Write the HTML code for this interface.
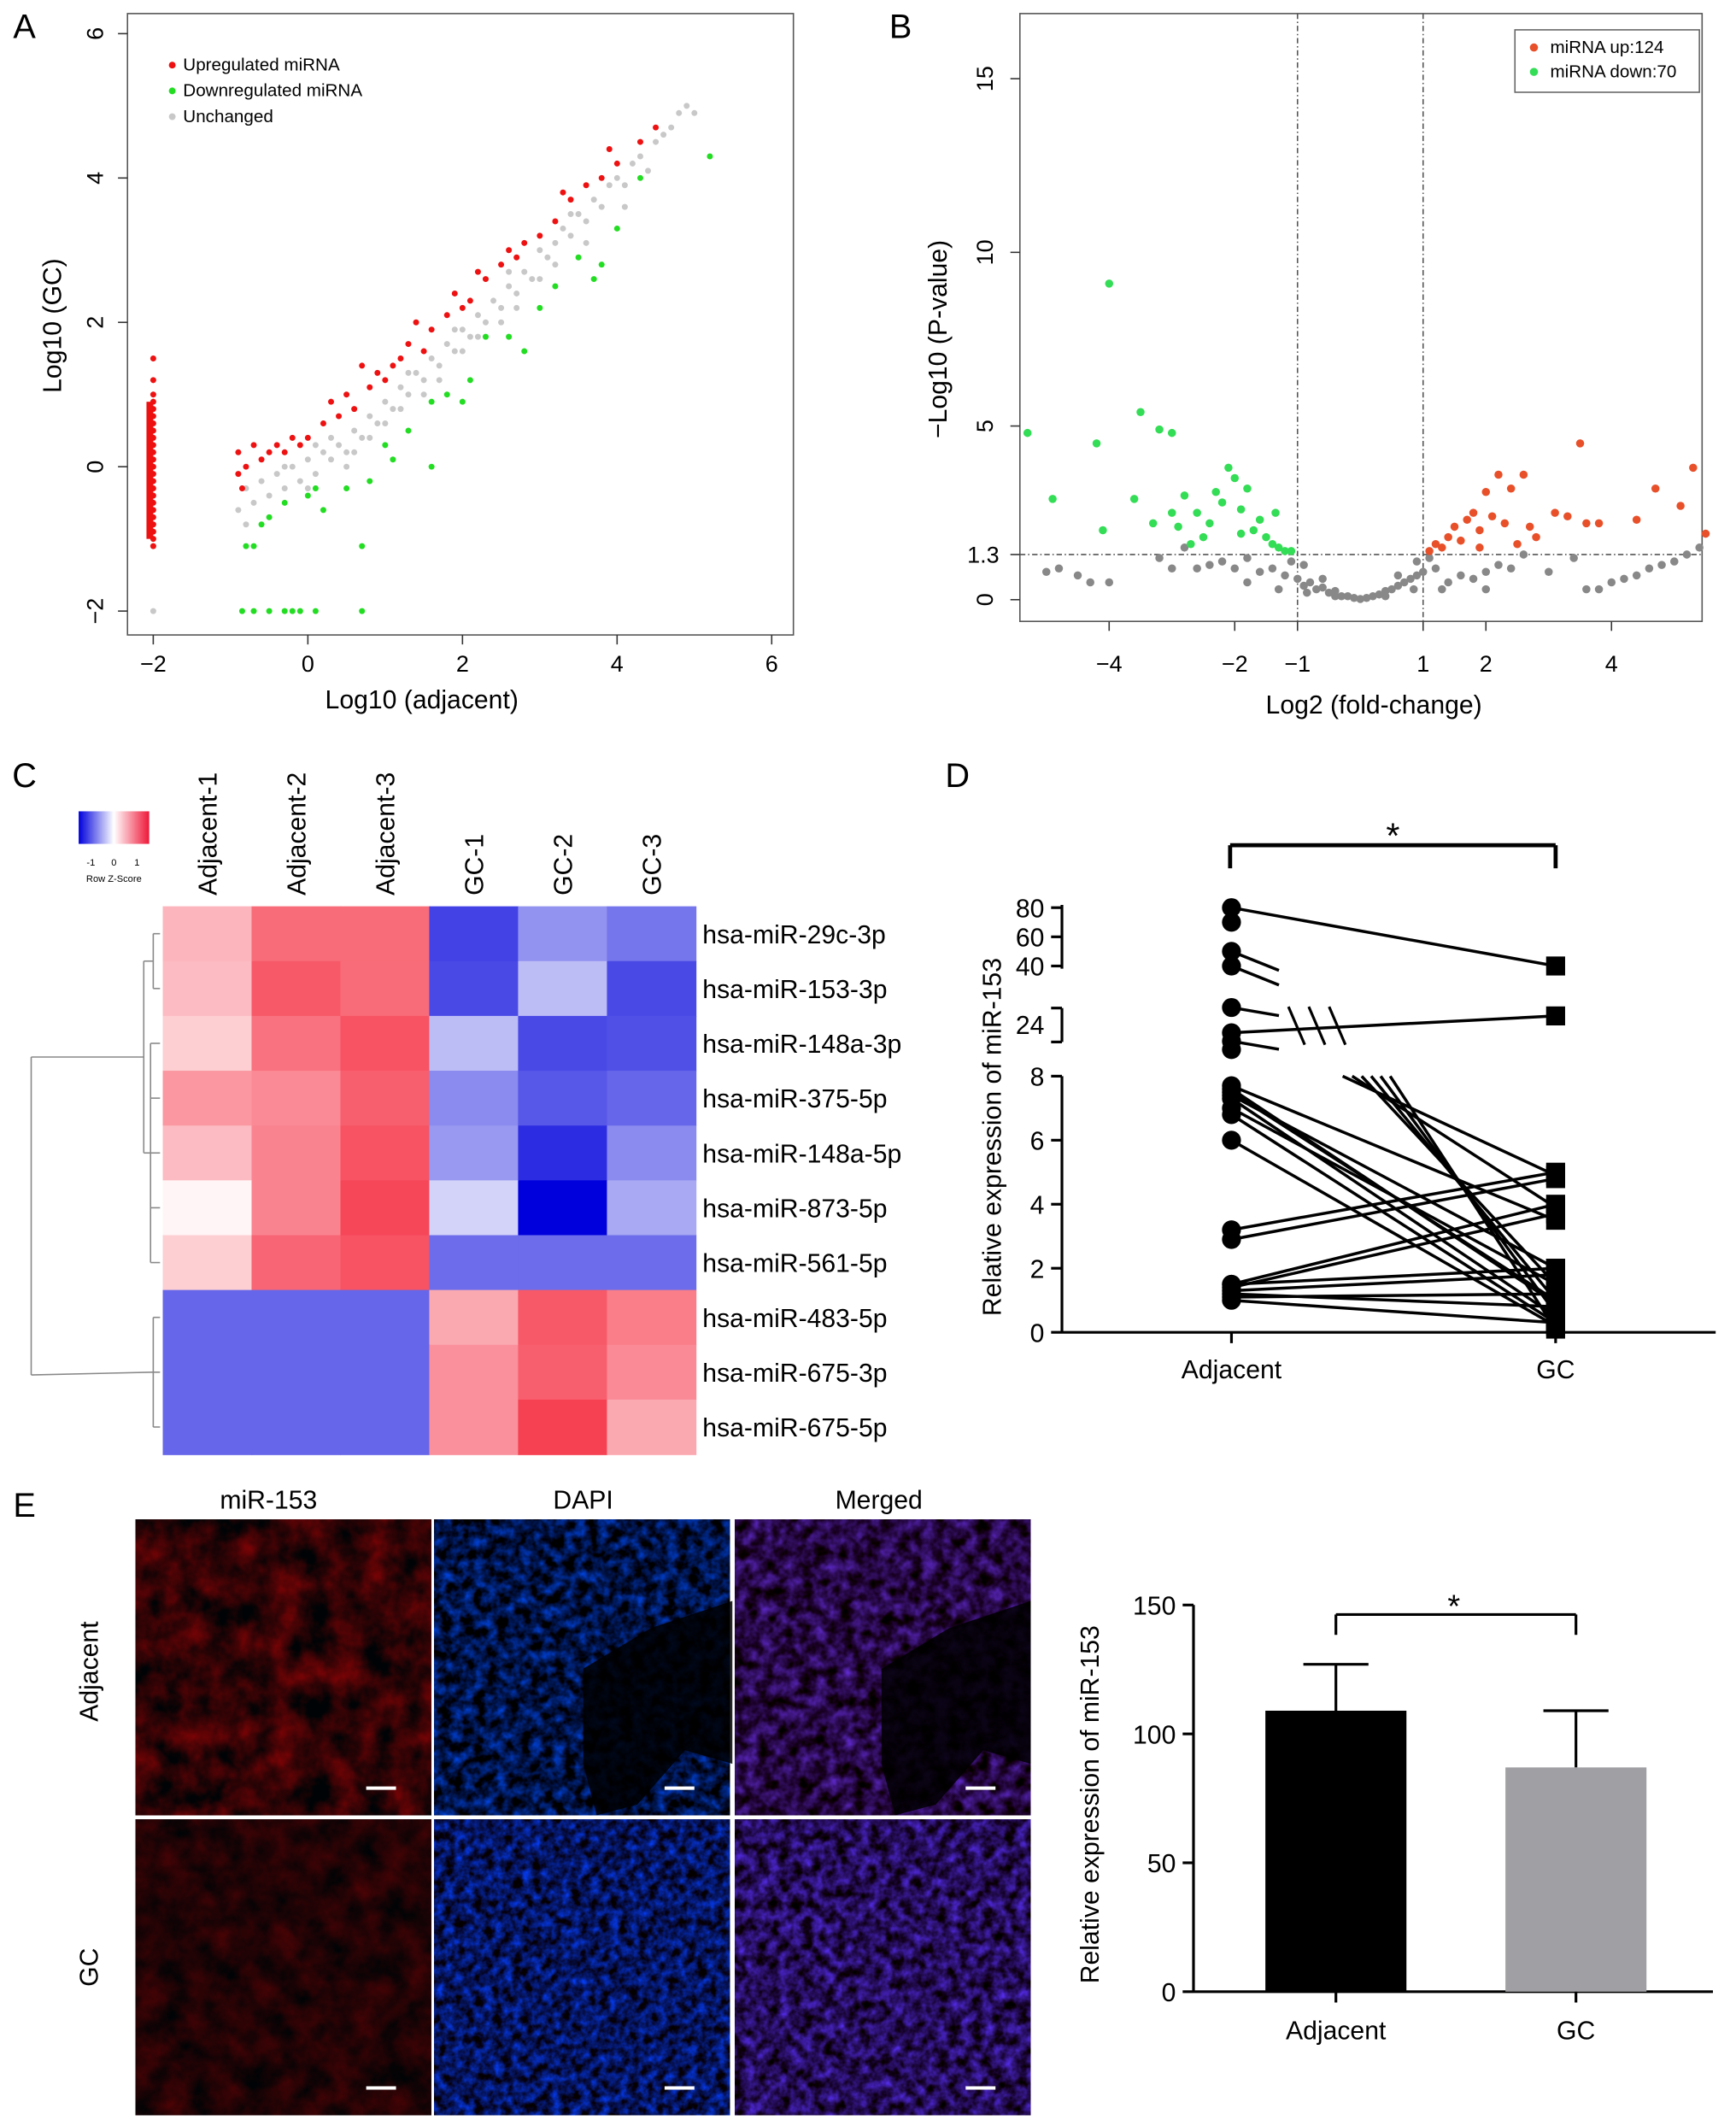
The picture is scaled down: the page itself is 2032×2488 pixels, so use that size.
<!DOCTYPE html>
<html><head><meta charset="utf-8">
<style>
html,body{margin:0;padding:0;background:#fff;}
svg{display:block;font-family:"Liberation Sans",Arial,sans-serif;}
</style></head>
<body>
<svg id="fig" width="2032" height="2488" viewBox="0 0 1280 1567" preserveAspectRatio="none" xmlns="http://www.w3.org/2000/svg">
<defs>
<filter id="fRed" x="0" y="0" width="100%" height="100%" color-interpolation-filters="sRGB">
<feTurbulence type="fractalNoise" baseFrequency="0.045" numOctaves="4" seed="3"/>
<feColorMatrix type="matrix" values="0.75 0 0 0 -0.18  0 0 0 0 0.01  0 0 0 0 0.02  0 0 0 0 1"/>
</filter>
<filter id="fRed2" x="0" y="0" width="100%" height="100%" color-interpolation-filters="sRGB">
<feTurbulence type="fractalNoise" baseFrequency="0.05" numOctaves="4" seed="7"/>
<feColorMatrix type="matrix" values="0.4 0 0 0 -0.07  0 0 0 0 0.01  0 0 0 0 0.02  0 0 0 0 1"/>
</filter>
<filter id="fBlue" x="0" y="0" width="100%" height="100%" color-interpolation-filters="sRGB">
<feTurbulence type="fractalNoise" baseFrequency="0.12" numOctaves="3" seed="5"/>
<feColorMatrix type="matrix" values="0 0 0 0 0.0  0.45 0 0 0 -0.15  1.4 0 0 0 -0.42  0 0 0 0 1"/>
</filter>
<filter id="fBlue2" x="0" y="0" width="100%" height="100%" color-interpolation-filters="sRGB">
<feTurbulence type="fractalNoise" baseFrequency="0.14" numOctaves="3" seed="9"/>
<feColorMatrix type="matrix" values="0 0 0 0 0.02  0.4 0 0 0 -0.12  1.5 0 0 0 -0.38  0 0 0 0 1"/>
</filter>
<filter id="fMerge" x="0" y="0" width="100%" height="100%" color-interpolation-filters="sRGB">
<feTurbulence type="fractalNoise" baseFrequency="0.1" numOctaves="3" seed="5"/>
<feColorMatrix type="matrix" values="0.5 0 0 0 -0.1  0.3 0 0 0 -0.12  1.2 0 0 0 -0.33  0 0 0 0 1"/>
</filter>
<filter id="fMerge2" x="0" y="0" width="100%" height="100%" color-interpolation-filters="sRGB">
<feTurbulence type="fractalNoise" baseFrequency="0.12" numOctaves="3" seed="9"/>
<feColorMatrix type="matrix" values="0.45 0 0 0 -0.08  0.3 0 0 0 -0.1  1.4 0 0 0 -0.35  0 0 0 0 1"/>
</filter>
</defs>
</svg>
<script>
// ===== DATA =====
const aGray = [[-0.9,-0.6],[-0.8,-0.3],[-0.7,-0.5],[-0.6,-0.2],[-0.5,-0.4],[-0.4,-0.1],[-0.3,-0.3],[-0.2,0.0],[-0.1,-0.2],[0,0.1],[0.1,-0.1],[0.2,0.2],[0.3,0.1],[0.4,0.3],[0.5,0.2],[0.6,0.5],[0.7,0.4],[0.8,0.7],[0.9,0.6],[1.0,0.9],[1.1,0.8],[1.2,1.1],[1.3,1.0],[1.4,1.3],[1.5,1.2],[1.6,1.5],[1.7,1.4],[1.8,1.7],[1.9,1.6],[2.0,1.9],[2.1,1.8],[2.2,2.1],[2.3,2.0],[2.4,2.3],[2.5,2.2],[2.6,2.5],[2.7,2.4],[2.8,2.7],[2.9,2.6],[3.0,3.0],[3.1,2.9],[3.2,3.1],[3.3,3.3],[3.4,3.2],[3.5,3.5],[3.6,3.4],[3.7,3.7],[3.8,3.6],[3.9,3.9],[4.0,4.0],[4.1,3.9],[4.2,4.2],[4.3,4.3],[4.4,4.1],[4.5,4.5],[4.6,4.6],[4.7,4.7],[4.8,4.9],[4.9,5.0],[5.0,4.9],[0.5,0.0],[1.0,0.6],[1.5,1.0],[2.0,1.6],[2.5,2.0],[3.0,2.6],[-0.8,-0.8],[0.0,-0.3],[-0.5,-0.7],[0.3,0.4],[0.8,0.4],[1.2,0.8],[1.7,1.2],[2.2,1.8],[2.7,2.2],[3.2,2.8],[3.6,3.1],[4.1,3.6],[-0.3,0.0],[0.1,0.3],[0.6,0.2],[1.3,1.3],[1.9,1.9],[2.6,2.7],[3.4,3.5],[-2,-2]];
const aRed = [[-0.9,0.2],[-0.8,0.0],[-0.7,0.3],[-0.6,0.1],[-0.5,0.2],[-0.4,0.3],[-0.3,0.2],[-0.2,0.4],[0,0.4],[0.2,0.6],[0.3,0.9],[0.5,1.0],[0.6,0.8],[0.8,1.1],[0.9,1.3],[1.0,1.2],[1.2,1.5],[1.3,1.7],[1.5,1.6],[1.6,1.9],[1.8,2.1],[1.9,2.4],[2.1,2.3],[2.3,2.6],[2.5,2.8],[2.6,3.0],[2.8,3.1],[3.0,3.2],[3.2,3.4],[3.4,3.7],[3.6,3.9],[3.8,4.0],[4.0,4.2],[4.3,4.5],[4.5,4.7],[-0.85,-0.3],[0.7,1.4],[1.4,2.0],[2.2,2.7],[3.3,3.8],[-0.9,-0.1],[-0.1,0.3],[0.4,0.7],[1.1,1.4],[2.0,2.2],[2.7,2.9],[3.9,4.4]];
const aRedColY = [-1.1,-1.0,-0.9,-0.8,-0.7,-0.6,-0.5,-0.4,-0.3,-0.2,-0.1,0,0.1,0.2,0.3,0.4,0.5,0.6,0.7,0.8,0.9,1.0,1.2,1.5];
const aGreen = [[-0.8,-1.1],[-0.7,-1.1],[-0.5,-0.7],[-0.3,-0.5],[0,-0.4],[0.2,-0.6],[0.5,-0.3],[0.8,-0.2],[1.0,0.3],[1.3,0.5],[1.6,0.9],[1.8,1.0],[2.1,1.2],[2.3,1.8],[2.6,1.8],[3.0,2.2],[3.2,2.5],[3.5,2.9],[3.8,2.8],[4.0,3.3],[4.3,4.0],[5.2,4.3],[0.7,-1.1],[1.6,0.0],[-0.85,-2],[-0.7,-2],[-0.5,-2],[-0.3,-2],[-0.1,-2],[0.1,-2],[0.7,-2],[-0.2,-2],[-0.6,-0.8],[0.1,-0.3],[1.1,0.1],[2.0,0.9],[2.8,1.6],[3.7,2.6]];
const aXTicks = [-2,0,2,4,6];
const aYTicks = [-2,0,2,4,6];
const bGray = [[-5,0.8],[-4.8,0.9],[-4.5,0.7],[-4.3,0.5],[-4,0.5],[-3.2,1.2],[-3,0.9],[-2.8,1.5],[-2.6,0.9],[-2.4,1.0],[-2.2,1.1],[-2,0.9],[-1.8,1.2],[-1.6,0.8],[-1.4,0.9],[-1.2,0.7],[-1,0.6],[-0.9,0.4],[-0.8,0.5],[-0.7,0.3],[-0.6,0.35],[-0.5,0.2],[-0.4,0.25],[-0.3,0.1],[-0.2,0.1],[-0.1,0.05],[0,0.02],[0.1,0.05],[0.2,0.1],[0.3,0.15],[0.4,0.25],[0.5,0.3],[0.6,0.4],[0.7,0.5],[0.8,0.6],[0.9,0.7],[1,0.8],[1.2,0.9],[1.4,0.5],[1.6,0.7],[1.8,0.6],[2,0.8],[2.2,1.0],[2.4,0.9],[2.6,1.3],[3.0,0.8],[3.4,1.2],[3.6,0.3],[3.8,0.3],[4.2,0.6],[4.4,0.7],[4.6,0.9],[4.8,1.0],[5,1.1],[5.2,1.3],[-1.1,1.1],[-0.9,1.0],[0.9,1.1],[1.1,1.2],[-0.85,0.2],[-0.6,0.6],[-0.4,0.1],[0.4,0.1],[0.6,0.7],[0.85,0.3],[-1.3,0.3],[1.3,0.3],[-1.8,0.5],[2.0,0.3],[4.0,0.5],[5.4,1.5]];
const bGreen = [[-5.3,4.8],[-4.9,2.9],[-4.0,9.1],[-4.2,4.5],[-4.1,2.0],[-3.5,5.4],[-3.3,2.2],[-3.2,4.9],[-3.0,4.8],[-3.0,2.5],[-2.8,3.0],[-2.7,1.6],[-2.6,2.5],[-2.5,1.8],[-2.4,2.2],[-2.3,3.1],[-2.2,2.8],[-2.1,3.8],[-2.0,3.5],[-1.9,2.6],[-1.8,3.2],[-1.7,2.0],[-1.6,2.3],[-1.5,1.8],[-1.4,1.6],[-1.35,2.5],[-1.3,1.5],[-1.2,1.4],[-1.1,1.4],[-3.6,2.9],[-2.9,2.1],[-1.9,1.9]];
const bRed = [[1.1,1.4],[1.2,1.6],[1.3,1.5],[1.4,1.8],[1.5,2.1],[1.6,1.7],[1.7,2.3],[1.8,2.5],[1.9,2.0],[2.0,3.1],[2.1,2.4],[2.2,3.6],[2.3,2.2],[2.4,3.2],[2.6,3.6],[2.7,2.1],[2.8,1.8],[3.1,2.5],[3.3,2.4],[3.5,4.5],[3.6,2.2],[3.8,2.2],[4.4,2.3],[4.7,3.2],[5.1,2.7],[5.3,3.8],[5.5,1.9],[1.9,1.5],[2.5,1.6]];
const bXTicks = [-4,-2,-1,1,2,4];
const bYTicks = [0,1.3,5,10,15];
const cCols = ["Adjacent-1","Adjacent-2","Adjacent-3","GC-1","GC-2","GC-3"];
const cRows = ["hsa-miR-29c-3p","hsa-miR-153-3p","hsa-miR-148a-3p","hsa-miR-375-5p","hsa-miR-148a-5p","hsa-miR-873-5p","hsa-miR-561-5p","hsa-miR-483-5p","hsa-miR-675-3p","hsa-miR-675-5p"];
const cZ = [
 [0.6,1.2,1.2,-1.3,-0.75,-0.95],
 [0.55,1.35,1.2,-1.25,-0.45,-1.25],
 [0.4,1.15,1.4,-0.45,-1.25,-1.2],
 [0.85,0.95,1.3,-0.8,-1.15,-1.05],
 [0.55,1.0,1.4,-0.7,-1.45,-0.8],
 [0.08,1.0,1.5,-0.3,-1.75,-0.6],
 [0.4,1.25,1.4,-1.0,-1.0,-1.0],
 [-1.05,-1.05,-1.05,0.7,1.35,1.05],
 [-1.05,-1.05,-1.05,0.9,1.3,0.95],
 [-1.05,-1.05,-1.05,0.9,1.55,0.7]];
const dPairs = [[7.5,1.0],[7.3,0.5],[7.0,1.5],[6.8,0.3],[6.0,0.2],[3.2,5.0],[2.9,4.8],[1.5,4.0],[1.4,3.7],[1.3,1.8],[1.2,0.8],[1.0,0.3],[1.5,2.0],[7.7,3.5],[7.4,2.0],[1.1,1.2],[7.6,0.9]];
const dFromBreak = [4.9,3.9,1.5,1.0,0.6,0.1];
const dTopPairs = [[80,40],[23,25]];
const dAdjOnly = [70,50,40,26,22,21];
const dYTicksLow = [0,2,4,6,8];
const dYTicksTop = [40,60,80];
const eCats = ["Adjacent","GC"];
const eMeans = [109,87];
const eErr = [18,22];
const eYTicks = [0,50,100,150];

// ===== HELPERS =====
const svg = document.getElementById('fig');
const NS = 'http://www.w3.org/2000/svg';
function mk(tag, attrs, parent){
  const el = document.createElementNS(NS, tag);
  for (const k in attrs) el.setAttribute(k, attrs[k]);
  (parent||svg).appendChild(el);
  return el;
}
function txt(s, x, y, size, name, opts){
  opts = opts||{};
  const el = mk('text', {x:x, y:y, 'font-size':size, fill:opts.fill||'#000', 'text-anchor':opts.anchor||'middle'}, opts.parent);
  if (opts.rot) el.setAttribute('transform', 'rotate('+opts.rot+' '+x+' '+y+')');
  el.textContent = s;
  
  
  return el;
}
function line(x1,y1,x2,y2,stroke,w,name,dash){
  const el = mk('line', {x1:x1,y1:y1,x2:x2,y2:y2,stroke:stroke,'stroke-width':w});
  if (dash) el.setAttribute('stroke-dasharray', dash);
  
  
  return el;
}
function dot(cx,cy,r,fill,name){
  const el = mk('circle', {cx:cx,cy:cy,r:r,fill:fill});
  
  
  return el;
}
function rect(x,y,w,h,fill,name,extra){
  const el = mk('rect', Object.assign({x:x,y:y,width:w,height:h,fill:fill}, extra||{}));
  
  
  return el;
}

[['A',18,28],['B',664,28],['C',18,580],['D',706,580],['E',18,1118]].forEach(p=>{
  txt(p[0], p[1], p[2], 25, 'panel-label-'+p[0].toLowerCase(), {anchor:'middle'});
});

// ===== PANEL A =====
(function(){
  const ax = v => 227 + v*57;
  const ay = v => 344 - v*53.2;
  rect(94,10,491,458,'none','panel-a-plot-frame',{stroke:'#555','stroke-width':1});
  aXTicks.forEach(t=>{ line(ax(t),468,ax(t),475,'#333',1,'a-x-tick'); txt(String(t).replace('-','−'),ax(t),495,17,'a-x-tick-label'); });
  aYTicks.forEach(t=>{ line(87,ay(t),94,ay(t),'#333',1,'a-y-tick'); txt(String(t).replace('-','−'),76,ay(t),17,'a-y-tick-label',{rot:-90}); });
  txt('Log10 (adjacent)',311,522,19,'a-x-axis-title');
  txt('Log10 (GC)',45,240,19,'a-y-axis-title',{rot:-90});
  aGray.forEach(p=>dot(ax(p[0]),ay(p[1]),2.2,'#c8c8c8','a-point-unchanged'));
  aGreen.forEach(p=>dot(ax(p[0]),ay(p[1]),2.2,'#22dd22','a-point-down'));
  aRed.forEach(p=>dot(ax(p[0]),ay(p[1]),2.2,'#ee1111','a-point-up'));
  aRedColY.forEach(y=>dot(ax(-2),ay(y),2.2,'#ee1111','a-point-up-column'));
  rect(108,ay(0.9),5,ay(-1.0)-ay(0.9),'#ee1111','a-up-column-dense');
  dot(127,48,2.5,'#ee1111','a-legend-up-marker'); txt('Upregulated miRNA',135,52,13,'a-legend-up',{anchor:'start'});
  dot(127,67,2.5,'#22dd22','a-legend-down-marker'); txt('Downregulated miRNA',135,71,13,'a-legend-down',{anchor:'start'});
  dot(127,86,2.5,'#c8c8c8','a-legend-unchanged-marker'); txt('Unchanged',135,90,13,'a-legend-unchanged',{anchor:'start'});
})();

// ===== PANEL B =====
(function(){
  const bx = v => 1003 + v*46.3;
  const by = v => 442 - v*25.6;
  rect(752,10,503,448,'none','panel-b-plot-frame',{stroke:'#555','stroke-width':1});
  bXTicks.forEach(t=>{ line(bx(t),458,bx(t),465,'#333',1,'b-x-tick'); txt(String(t).replace('-','−'),bx(t),495,17,'b-x-tick-label'); });
  bYTicks.forEach(t=>{ line(745,by(t),752,by(t),'#333',1,'b-y-tick'); });
  [0,5,10,15].forEach(t=>txt(String(t),732,by(t),17,'b-y-tick-label',{rot:-90}));
  txt('1.3',725,by(1.3)+6,17,'b-y-tick-label-1-3');
  txt('Log2 (fold-change)',1013,526,19,'b-x-axis-title');
  txt('−Log10 (P-value)',698,250,19,'b-y-axis-title',{rot:-90});
  line(bx(-1),10,bx(-1),458,'#555',1,'b-threshold-left','4,2,1,2');
  line(bx(1),10,bx(1),458,'#555',1,'b-threshold-right','4,2,1,2');
  line(752,by(1.3),1255,by(1.3),'#555',1,'b-threshold-p','4,2,1,2');
  bGray.forEach(p=>dot(bx(p[0]),by(p[1]),3,'#888888','b-point-ns'));
  bGreen.forEach(p=>dot(bx(p[0]),by(p[1]),3,'#33dd55','b-point-down'));
  bRed.forEach(p=>dot(bx(p[0]),by(p[1]),3,'#e8502a','b-point-up'));
  rect(1117,22,136,46,'#fff','b-legend-box',{stroke:'#666','stroke-width':1});
  dot(1131,35,3,'#e8502a','b-legend-up-marker'); txt('miRNA up:124',1143,39,13,'b-legend-up',{anchor:'start'});
  dot(1131,53,3,'#33dd55','b-legend-down-marker'); txt('miRNA down:70',1143,57,13,'b-legend-down',{anchor:'start'});
})();

// ===== PANEL C =====
(function(){
  const x0=120, y0=668, cw=65.5, ch=40.4;
  function col(z){
    const t = Math.min(1, Math.abs(z)/1.75);
    if (z<0){ return 'rgb('+Math.round(255-255*t)+','+Math.round(255-255*t)+','+Math.round(255-35*t)+')'; }
    return 'rgb('+Math.round(255-10*t)+','+Math.round(255-215*t)+','+Math.round(255-195*t)+')';
  }
  cZ.forEach((row,i)=>row.forEach((z,j)=>{
    rect(x0+j*cw,y0+i*ch,cw+0.5,ch+0.5,col(z),'heatmap-cell');
  }));
  cRows.forEach((r,i)=>txt(r,518,y0+i*ch+ch/2+7,19,'c-row-label',{anchor:'start'}));
  cCols.forEach((c,j)=>{
    const x = x0+j*cw+cw/2+7;
    txt(c,x,660,19,'c-col-label',{anchor:'start',rot:-90});
  });
  const g = mk('linearGradient',{id:'zkey',x1:'0',x2:'1',y1:'0',y2:'0'}, svg.querySelector('defs'));
  [['0','#0000dd'],['0.5','#ffffff'],['1','#ee1838']].forEach(s=>mk('stop',{offset:s[0],'stop-color':s[1]},g));
  rect(58,598,52,24,'url(#zkey)','c-color-key');
  [-1,0,1].forEach((t,i)=>txt(String(t),67+i*17,638,7,'c-key-tick'));
  txt('Row Z-Score',84,650,7,'c-key-title');
  const dc='#888';
  const yc = i => y0+i*ch+ch/2;
  line(118,yc(0),113,yc(0),dc,1,'dendro'); line(118,yc(1),113,yc(1),dc,1,'dendro'); line(113,yc(0),113,yc(1),dc,1,'dendro');
  line(113,(yc(0)+yc(1))/2,106,(yc(0)+yc(1))/2,dc,1,'dendro');
  [2,3,4,5,6].forEach(i=>line(118,yc(i),111,yc(i),dc,1,'dendro'));
  line(111,yc(2),111,yc(6),dc,1,'dendro');
  line(111,(yc(2)+yc(6))/2,106,(yc(2)+yc(6))/2,dc,1,'dendro');
  line(106,(yc(0)+yc(1))/2,106,(yc(2)+yc(6))/2,dc,1,'dendro');
  [7,8,9].forEach(i=>line(118,yc(i),113,yc(i),dc,1,'dendro'));
  line(113,yc(7),113,yc(9),dc,1,'dendro');
  const topM=((yc(0)+yc(1))/2+(yc(2)+yc(6))/2)/2;
  line(106,topM,23,topM,dc,1,'dendro'); line(113,yc(8),23,yc(8)+2,dc,1,'dendro');
  line(23,topM,23,yc(8)+2,dc,1,'dendro');
})();

// ===== PANEL D =====
(function(){
  const X0=783;
  const dxA=908, dxG=1147;
  const yLow = v => 982 - v*23.6;
  const yMid = v => 755 - (v-24)*6.2;
  const yTop = v => 712 - (v-40)*1.075;
  const yMap = v => v<=8 ? yLow(v) : (v<35 ? yMid(v) : yTop(v));
  line(X0,982,1265,982,'#000',2,'d-x-axis');
  line(X0,yLow(8),X0,982,'#000',2,'d-y-axis-low');
  line(X0,743,X0,768,'#000',2,'d-y-axis-mid');
  line(X0,667,X0,714,'#000',2,'d-y-axis-top');
  dYTicksLow.forEach(t=>{ line(X0-8,yLow(t),X0,yLow(t),'#000',2,'d-y-tick'); txt(String(t),X0-13,yLow(t)+7,19,'d-y-tick-label',{anchor:'end'}); });
  [743,768].forEach(y=>line(X0-8,y,X0,y,'#000',2,'d-y-tick'));
  txt('24',X0-13,yMid(24)+7,19,'d-y-tick-label',{anchor:'end'});
  dYTicksTop.forEach(t=>{ line(X0-8,yTop(t),X0,yTop(t),'#000',2,'d-y-tick'); txt(String(t),X0-13,yTop(t)+7,19,'d-y-tick-label',{anchor:'end'}); });
  txt('Relative expression of miR-153',738,838,19,'d-y-axis-title',{rot:-90});
  [[dxA,'Adjacent'],[dxG,'GC']].forEach(c=>{ line(c[0],982,c[0],990,'#000',2,'d-x-tick'); txt(c[1],c[0],1016,19,'d-x-tick-label'); });
  line(907,623,1147,623,'#000',3,'d-sig-bracket'); line(907,623,907,640,'#000',3,'d-sig-bracket'); line(1147,623,1147,640,'#000',3,'d-sig-bracket');
  txt('*',1027,625,26,'d-sig-star');
  dPairs.forEach(p=>line(dxA,yLow(p[0]),dxG,yLow(p[1]),'#000',2.2,'d-pair-line'));
  dFromBreak.forEach((v,i)=>line(990+i*7,yLow(8),dxG,yLow(v),'#000',2.2,'d-pair-line-broken'));
  dTopPairs.forEach(p=>line(dxA,yMap(p[0]),dxG,yMap(p[1]),'#000',2.2,'d-pair-line-top'));
  dAdjOnly.forEach((v,i)=>{ if(i>0&&i<5) line(dxA,yMap(v),dxA+35,yMap(v)+(i<3?14:6),'#000',2.2,'d-pair-line-break-stub'); });
  [950,965,980].forEach(x=>line(x,742,x+12,770,'#000',2,'d-break-hatch'));
  dPairs.concat(dTopPairs).forEach(p=>dot(dxA,yMap(p[0]),7,'#000','d-point-adjacent'));
  dAdjOnly.forEach(v=>dot(dxA,yMap(v),7,'#000','d-point-adjacent'));
  dPairs.concat(dTopPairs).forEach(p=>rect(dxG-7,yMap(p[1])-7,14,14,'#000','d-point-gc'));
  dFromBreak.forEach(v=>rect(dxG-7,yLow(v)-7,14,14,'#000','d-point-gc'));
})();

// ===== PANEL E images =====
(function(){
  txt('miR-153',198,1112,19,'e-col-title-mir153');
  txt('DAPI',430,1112,19,'e-col-title-dapi');
  txt('Merged',648,1112,19,'e-col-title-merged');
  txt('Adjacent',72,1232,19,'e-row-title-adjacent',{rot:-90});
  txt('GC',72,1450,19,'e-row-title-gc',{rot:-90});
  const cols=[100,320,542], rows=[1120,1341], w=218, h=218;
  const filt=[['fRed','fBlue','fMerge'],['fRed2','fBlue2','fMerge2']];
  const nm=['mir153','dapi','merged'];
  rows.forEach((y,ri)=>cols.forEach((x,ci)=>{
    rect(x,y,w,h,'#000','e-image-bg-'+nm[ci]);
    rect(x,y,w,h,'#fff','e-image-'+nm[ci]+'-'+(ri?'gc':'adjacent'),{filter:'url(#'+filt[ri][ci]+')'});
    line(x+w-48,y+h-20,x+w-26,y+h-20,'#fff',2.5,'e-scale-bar');
  }));
  const p1 = mk('path',{d:'M430 1230 L480 1200 L540 1180 L540 1300 L505 1290 L470 1330 L440 1338 L430 1300 Z',fill:'#000',opacity:0.85});
  
  
  const p2 = mk('path',{d:'M650 1230 L700 1200 L760 1180 L760 1300 L725 1290 L690 1330 L660 1338 L650 1300 Z',fill:'#000',opacity:0.85});
  
  
})();

// ===== PANEL E bar chart =====
(function(){
  const X0=880, Y0=1468;
  const ey = v => Y0 - v*1.9;
  const ex = [985,1162];
  line(X0,Y0,1263,Y0,'#000',2,'e-x-axis');
  line(X0,ey(150),X0,Y0,'#000',2,'e-y-axis');
  eYTicks.forEach(t=>{ line(X0-8,ey(t),X0,ey(t),'#000',2,'e-y-tick'); txt(String(t),X0-13,ey(t)+7,19,'e-y-tick-label',{anchor:'end'}); });
  txt('Relative expression of miR-153',810,1330,19,'e-y-axis-title',{rot:-90});
  const fills=['#000','#a0a0a4'];
  eCats.forEach((c,i)=>{
    line(ex[i],ey(eMeans[i]),ex[i],ey(eMeans[i]+eErr[i]),'#000',2,'e-error-bar');
    line(ex[i]-24,ey(eMeans[i]+eErr[i]),ex[i]+24,ey(eMeans[i]+eErr[i]),'#000',2,'e-error-cap');
    rect(ex[i]-52,ey(eMeans[i]),104,ey(0)-ey(eMeans[i]),fills[i],'e-bar-'+c.toLowerCase());
    line(ex[i],Y0,ex[i],Y0+8,'#000',2,'e-x-tick');
    txt(c,ex[i],1503,19,'e-x-tick-label');
  });
  line(985,1190,1162,1190,'#000',2,'e-sig-bracket'); line(985,1190,985,1205,'#000',2,'e-sig-bracket'); line(1162,1190,1162,1205,'#000',2,'e-sig-bracket');
  txt('*',1072,1192,24,'e-sig-star');
})();
</script>
</body></html>
